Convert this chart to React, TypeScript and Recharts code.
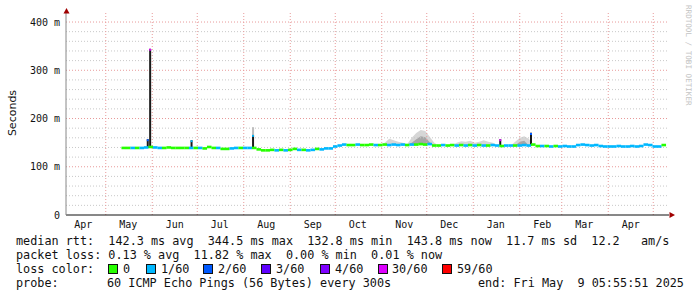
import { ComposedChart, Scatter, Area, XAxis, YAxis, ReferenceLine } from "recharts";

// loss colour scale (smokeping defaults)
const lossColors = ["#26ff00", "#00b8ff", "#0059ff", "#5e00ff", "#7e00ff", "#dd00ff", "#ff0000"];
const lossLabels = ["0", "1/60", "2/60", "3/60", "4/60", "30/60", "59/60"];

// days counted from 1 Apr 2024
const monthStarts = [30, 61, 91, 122, 153, 183, 214, 244, 275, 306, 334, 365, 395];
const monthLabelDays = [15, 45, 76, 106, 137, 168, 198, 229, 259, 290, 321, 349, 380];
const monthLabels = ["Apr", "May", "Jun", "Jul", "Aug", "Sep", "Oct", "Nov", "Dec", "Jan", "Feb", "Mar", "Apr"];

const yTicks = [0, 100, 200, 300, 400];
const minorY = [20, 40, 60, 80, 120, 140, 160, 180, 220, 240, 260, 280, 320, 340, 360, 380];
const majorY = [100, 200, 300, 400];

// median rtt (ms), one value every 3 days starting 13 May 2024
const startDay = 42;
const stepDays = 3;
const medianMs = [
  139, 139, 139, 139, 139, 140, 141, 140, 139, 139, 140, 139, 139, 139, 139, 139, 139, 139, 138, 141,
  139, 139, 137, 137, 138, 139, 139, 139, 139, 139, 136, 134, 134, 135, 134, 135, 134, 135, 137, 135,
  135, 134, 135, 137, 136, 138, 138, 142, 144, 146, 145, 145, 146, 145, 145, 146, 145, 145, 146, 145,
  146, 145, 146, 145, 146, 146, 147, 146, 147, 144, 144, 145, 144, 145, 144, 145, 144, 145, 144, 145,
  144, 144, 145, 144, 143, 144, 144, 144, 144, 145, 144, 146, 143, 143, 143, 142, 143, 142, 143, 142,
  142, 145, 146, 145, 144, 145, 143, 142, 142, 142, 143, 142, 142, 143, 142, 143, 146, 145, 142, 142,
  145,
];
const lossStep = [
  0, 0, 1, 0, 1, 1, 0, 1, 1, 0, 0, 0, 0, 0, 0, 1, 0, 1, 0, 0,
  0, 1, 0, 0, 1, 1, 0, 1, 1, 0, 0, 0, 0, 0, 1, 0, 1, 0, 0, 1,
  0, 1, 1, 0, 1, 1, 1, 1, 1, 1, 0, 0, 1, 0, 0, 0, 1, 0, 0, 1,
  1, 1, 1, 0, 1, 0, 0, 0, 1, 0, 0, 1, 0, 0, 1, 0, 1, 0, 1, 0,
  1, 0, 1, 1, 0, 1, 1, 0, 1, 1, 1, 0, 0, 1, 0, 1, 0, 1, 1, 1,
  1, 1, 1, 1, 1, 1, 1, 1, 1, 1, 1, 1, 1, 1, 1, 1, 1, 1, 1, 1,
  0,
];

// smoke (spread of the 60 pings), upper edge in ms
const smokeDays = [216, 219, 222, 225, 228, 231, 234, 237, 240, 243, 246, 249, 264, 267, 270, 273, 276, 279, 282, 285, 288, 303, 306, 309, 312];
const smokeTop = [150, 158, 155, 152, 150, 147, 160, 170, 176, 174, 162, 150, 150, 153, 152, 154, 150, 152, 155, 152, 150, 152, 160, 163, 158];
const coreDays = [234, 237, 240, 243, 246, 306, 309];
const coreTop = [150, 157, 163, 161, 151, 152, 154];

// short outliers
const spikeDays = [58, 59.6, 87.2, 128.2, 293, 313.5];
const spikeBase = [139, 141, 139, 139, 144, 144];
const spikeTop = [157, 344.5, 155, 166, 157, 170];
const spikeLoss = [2, 5, 1, 1, 5, 2];
const spikeHaze = [157, 344.5, 155, 182, 157, 172];

const mono = "'DejaVu Sans Mono', monospace";

const MedianMark = (p: any) => {
  if (p.cx == null || p.cy == null) return null;
  return <rect x={p.cx - 2.3} y={p.cy - 1.3} width={4.6} height={2.6} fill={lossColors[p.payload.loss]} />;
};

export default function App() {
  const rows = medianMs.map((m, i) => {
    const day = startDay + i * stepDays;
    const k = smokeDays.indexOf(day);
    const c = coreDays.indexOf(day);
    return {
      day,
      med: m,
      loss: lossStep[i],
      smk: k >= 0 ? smokeTop[k] : m,
      core: c >= 0 ? coreTop[c] : m,
    };
  });

  return (
    <div style={{ position: "absolute", left: 0, top: 0, width: 697, height: 297, background: "#fff" }}>
      <ComposedChart width={697} height={297} data={rows} margin={{ top: 13, right: 28, bottom: 62, left: 6 }}>
        <XAxis
          dataKey="day"
          type="number"
          domain={[3.5, 405.5]}
          ticks={monthLabelDays}
          tickFormatter={(v) => monthLabels[monthLabelDays.indexOf(v)]}
          height={20}
          tickSize={0}
          tickMargin={6}
          tickLine={false}
          axisLine={{ stroke: "#111" }}
          tick={{ fontFamily: mono, fontSize: 10, fill: "#111" }}
          allowDataOverflow
        />
        <YAxis
          type="number"
          domain={[0, 418.7]}
          ticks={yTicks}
          tickFormatter={(v) => (v === 0 ? "0" : `${v} m`)}
          width={60}
          tickSize={0}
          tickMargin={6}
          tickLine={false}
          axisLine={{ stroke: "#888" }}
          tick={{ fontFamily: mono, fontSize: 10, fill: "#111" }}
          allowDataOverflow
        />
        {minorY.map((v) => (
          <ReferenceLine key={"gy" + v} y={v} stroke="#c8c8c8" strokeDasharray="1 2" />
        ))}
        {majorY.map((v) => (
          <ReferenceLine key={"my" + v} y={v} stroke="#e89a9a" strokeDasharray="1 2" />
        ))}
        {monthStarts.map((d) => (
          <ReferenceLine key={"mx" + d} x={d} stroke="#e89a9a" strokeDasharray="1 2" />
        ))}
        <Area
          dataKey={(r: any) => [r.med, r.smk]}
          type="linear"
          stroke="none"
          fill="#d6d6d6"
          fillOpacity={1}
          isAnimationActive={false}
        />
        <Area
          dataKey={(r: any) => [r.med, r.core]}
          type="linear"
          stroke="none"
          fill="#a6a6a6"
          fillOpacity={1}
          isAnimationActive={false}
        />
        {spikeDays.map((d, i) => (
          <ReferenceLine
            key={"h" + i}
            segment={[{ x: d, y: spikeTop[i] }, { x: d, y: spikeHaze[i] }]}
            stroke="#bdbdbd"
            strokeWidth={2}
          />
        ))}
        {spikeDays.map((d, i) => (
          <ReferenceLine
            key={"s" + i}
            segment={[{ x: d, y: spikeBase[i] }, { x: d, y: spikeTop[i] }]}
            stroke="#1a1a1a"
            strokeWidth={2}
          />
        ))}
        <Scatter dataKey="med" shape={MedianMark} isAnimationActive={false} />
        {spikeDays.map((d, i) => (
          <ReferenceLine
            key={"c" + i}
            segment={[{ x: d, y: spikeTop[i] - 4 }, { x: d, y: spikeTop[i] }]}
            stroke={lossColors[spikeLoss[i]]}
            strokeWidth={2}
          />
        ))}
      </ComposedChart>

      <svg width={697} height={297} style={{ position: "absolute", left: 0, top: 0, pointerEvents: "none" }}>
        <polygon points="66.5,8 63.5,13.5 69.5,13.5" fill="#a00000" />
        <polygon points="675,215 669.5,212 669.5,218" fill="#a00000" />
        <text
          transform="translate(15.5,113) rotate(-90)"
          textAnchor="middle"
          fontFamily="'DejaVu Sans', sans-serif"
          fontSize={11}
          fill="#111"
        >
          Seconds
        </text>
        <text transform="translate(685.5,5) rotate(90)" fontFamily={mono} fontSize={7.6} fill="#c4c4c4">
          RRDTOOL / TOBI OETIKER
        </text>
        <g fontFamily={mono} fontSize={11.8} fill="#111">
          <text x={16} y={245} xmlSpace="preserve">
            {"median rtt:  142.3 ms avg  344.5 ms max  132.8 ms min  143.8 ms now  11.7 ms sd  12.2   am/s"}
          </text>
          <text x={16} y={259} xmlSpace="preserve">
            {"packet loss: 0.13 % avg  11.82 % max  0.00 % min  0.01 % now"}
          </text>
          <text x={16} y={273}>loss color:</text>
          {lossLabels.map((l, i) => (
            <g key={l}>
              <rect x={[108, 146, 203, 261, 320, 378, 442][i] + 0.5} y={264.5} width={9} height={9} fill={lossColors[i]} stroke="#111" />
              <text x={[123, 161, 218, 276, 335, 392, 457][i]} y={273}>{l}</text>
            </g>
          ))}
          <text x={16} y={287}>probe:</text>
          <text x={107} y={287}>60 ICMP Echo Pings (56 Bytes) every 300s</text>
          <text x={478} y={287} xmlSpace="preserve">
            {"end: Fri May  9 05:55:51 2025"}
          </text>
        </g>
      </svg>
    </div>
  );
}
